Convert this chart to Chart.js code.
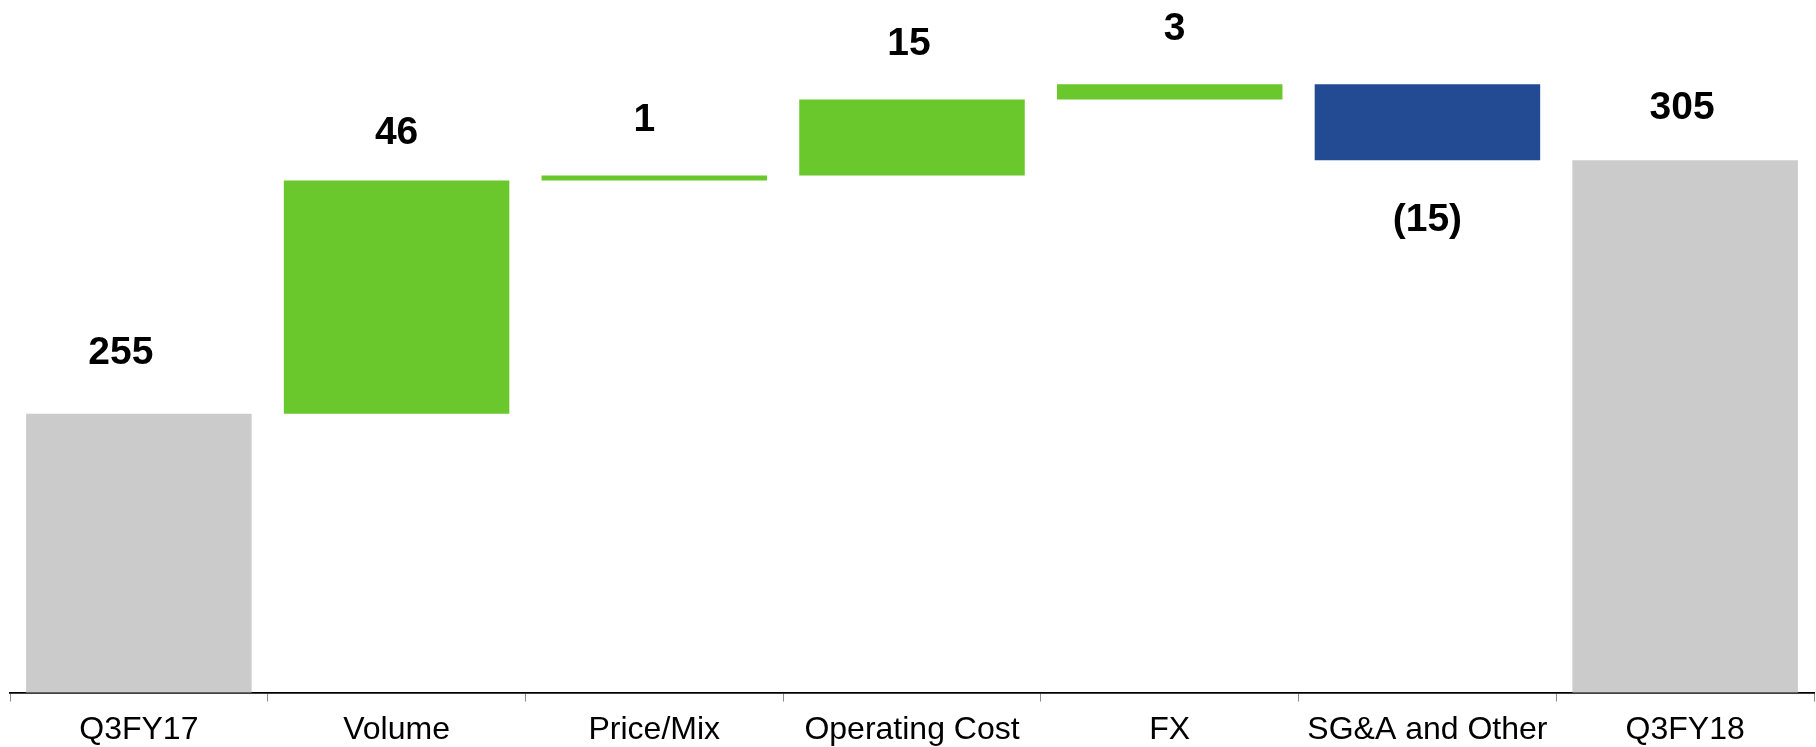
<!DOCTYPE html>
<html>
<head>
<meta charset="utf-8">
<script src="https://cdn.jsdelivr.net/npm/chart.js@4/dist/chart.umd.min.js"></script>
<style>
html,body{margin:0;padding:0;background:#fff;}
#wrap{width:1816px;height:747px;position:relative;}
</style>
</head>
<body>
<div id="wrap"><canvas id="c" width="1816" height="747"></canvas></div>
<script>
const categories = ["Q3FY17","Volume","Price/Mix","Operating Cost","FX","SG&A and Other","Q3FY18"];
const values = [255, 46, 1, 15, 3, -15, 305];
const isTotal = [true, false, false, false, false, false, true];
const valueLabels = ["255","46","1","15","3","(15)","305"];
const yMin = 200;
const yMax = 336.6;

const totalColor = "#CBCBCB", upColor = "#6AC82C", downColor = "#234B94";

// build floating ranges from the deltas
const ranges = [];
let run = 0;
values.forEach((v, i) => {
  if (isTotal[i]) { ranges.push([0, v]); run = v; }
  else { ranges.push([run, run + v]); run += v; }
});
const colors = values.map((v, i) => isTotal[i] ? totalColor : (v >= 0 ? upColor : downColor));

// label placement tweaks (style only)
const labelGap = [60, 47, 55, 55, 55, 60, 52];
const labelDx = [-18, 0, -10, -3, 5, 0, -3];

const labelPlugin = {
  id: 'valueLabels',
  afterDatasetsDraw(chart) {
    const ctx = chart.ctx;
    const meta = chart.getDatasetMeta(0);
    const y = chart.scales.y;
    ctx.save();
    ctx.font = "bold 39px 'Liberation Sans', Arial, sans-serif";
    ctx.fillStyle = "#000";
    ctx.textAlign = "center";
    ctx.textBaseline = "middle";
    meta.data.forEach((bar, i) => {
      const r = ranges[i];
      const top = Math.max(r[0], r[1]), bot = Math.min(r[0], r[1]);
      let py;
      if (values[i] >= 0 || isTotal[i]) py = y.getPixelForValue(top) - labelGap[i];
      else py = y.getPixelForValue(bot) + labelGap[i];
      ctx.fillText(valueLabels[i], bar.x + labelDx[i], py);
    });
    ctx.restore();
  }
};

new Chart(document.getElementById('c'), {
  type: 'bar',
  data: {
    labels: categories,
    datasets: [{
      data: ranges,
      backgroundColor: colors,
      borderWidth: 0,
      borderSkipped: false,
      categoryPercentage: 1.0,
      barPercentage: 0.875
    }]
  },
  options: {
    responsive: false,
    animation: false,
    layout: { padding: { left: 10, right: 2, top: 0, bottom: 0 } },
    plugins: { legend: { display: false }, tooltip: { enabled: false } },
    scales: {
      x: {
        grid: { display: true, drawOnChartArea: false, drawTicks: true, tickLength: 9, color: "#8c8c8c", offset: true },
        border: { display: true, color: "#000", width: 1.7 },
        ticks: { color: "#000", font: { family: "'Liberation Sans', Arial, sans-serif", size: 32 }, padding: 9, maxRotation: 0, autoSkip: false },
        afterFit(scale) { scale.height = 54.4; }
      },
      y: {
        display: false,
        min: yMin,
        max: yMax
      }
    }
  },
  plugins: [labelPlugin]
});
</script>
</body>
</html>
